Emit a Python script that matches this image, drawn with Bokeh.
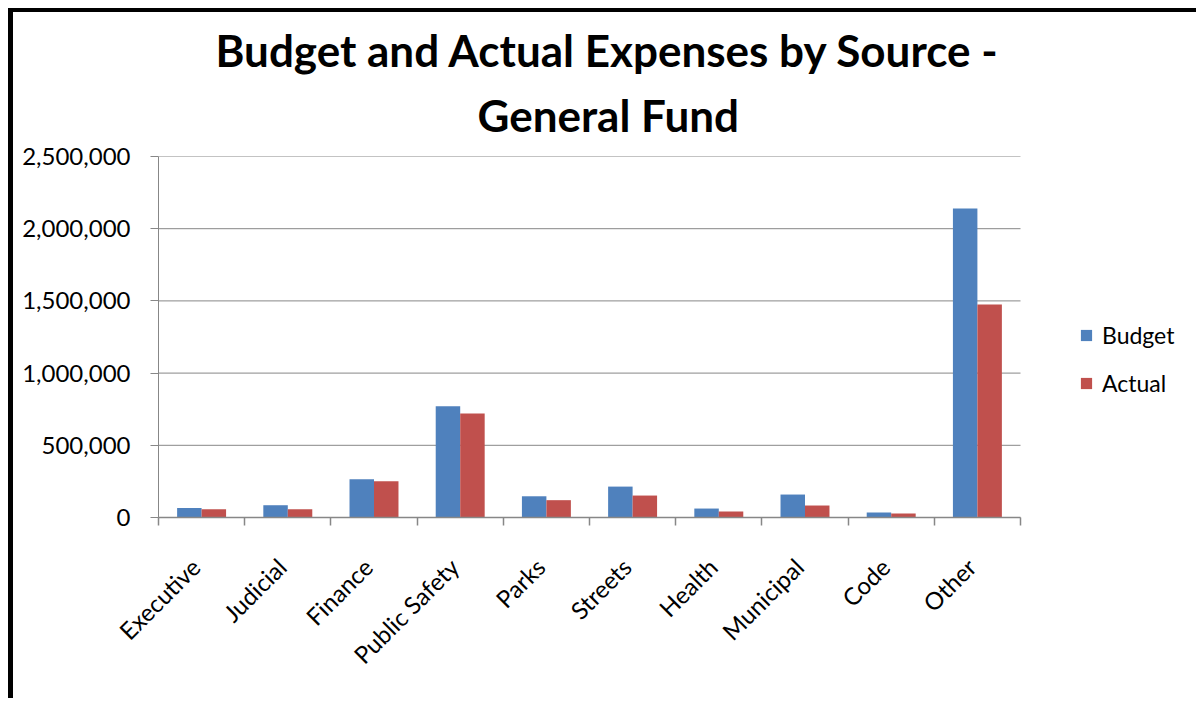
import math
from bokeh.plotting import figure
from bokeh.models import (ColumnDataSource, FixedTicker, NumeralTickFormatter, Range1d,
                          Legend, LegendItem, Title)
from bokeh.transform import dodge
from bokeh.embed import file_html
from bokeh.resources import INLINE

categories = ["Executive", "Judicial", "Finance", "Public Safety", "Parks",
              "Streets", "Health", "Municipal", "Code", "Other"]
budget = [66000, 85000, 265000, 770000, 147000, 214000, 62000, 159000, 35000, 2140000]
actual = [57000, 57000, 251000, 721000, 120000, 152000, 41000, 83000, 28000, 1475000]
y_ticks = [0, 500000, 1000000, 1500000, 2000000, 2500000]
title_lines = ["Budget and Actual Expenses by Source -", "General Fund"]

FONT = "Lato"
BLUE = "#4F81BD"
RED = "#C0504D"
GRID = "#878787"

n = len(categories)
centers = [i + 0.5 for i in range(n)]
bounds = [float(i) for i in range(n + 1)]
src = ColumnDataSource(dict(x=centers, budget=budget, actual=actual, cat=categories))

# layout (page pixels): plot area 158..1020 x 156..517, legend to its right
PL, PR, PT, PB = 158, 1020, 156, 517
x_end = n * (1201 - PL) / (PR - PL)   # frame reaches the right edge so the legend is not clipped
px_unit = (PR - PL) / n

p = figure(width=1188, height=690, output_backend="svg", toolbar_location=None,
           x_range=Range1d(0, x_end), y_range=Range1d(0, 2500000),
           min_border_left=PL - 13, min_border_right=0, min_border_top=PT - 12,
           min_border_bottom=702 - PB, background_fill_color="white",
           border_fill_color="white")
p.outline_line_color = None
p.margin = (8, 0, 0, 8)
p.styles = {"border-left": "5px solid black", "border-top": "4px solid black"}

# horizontal gridlines limited to the category area
p.ygrid.grid_line_color = None
p.xgrid.grid_line_color = None
p.segment(x0=[0] * len(y_ticks), x1=[n] * len(y_ticks), y0=y_ticks, y1=y_ticks,
          line_color=GRID, line_width=1, level="underlay")

bw = 0.284
rb = p.vbar(x=dodge("x", -bw / 2, range=p.x_range), top="budget", width=bw,
            source=src, fill_color=BLUE, line_color=None)
ra = p.vbar(x=dodge("x", bw / 2, range=p.x_range), top="actual", width=bw,
            source=src, fill_color=RED, line_color=None)

# title (two lines)
def style_title(t, offset):
    t.align = "left"
    t.text_font = FONT
    t.text_font_size = "44px"
    t.text_font_style = "bold"
    t.text_color = "black"
    t.offset = offset
    t.text_line_height = 1.0

p.title.text = title_lines[0]
style_title(p.title, 215 - PL)
p.title.standoff = -8
t2 = Title(text=title_lines[1])
style_title(t2, 477 - PL)
t2.standoff = 31
p.add_layout(t2, "above")

# y axis
yax = p.yaxis[0]
yax.ticker = FixedTicker(ticks=y_ticks)
yax.formatter = NumeralTickFormatter(format="0,0")
yax.axis_line_color = GRID
yax.major_tick_line_color = GRID
yax.major_tick_in = 0
yax.major_tick_out = 8
yax.minor_tick_line_color = None
yax.major_label_text_font = FONT
yax.major_label_text_font_size = "24px"
yax.major_label_text_color = "black"
yax.major_label_standoff = 20

# x axis: tick marks at category boundaries, labels near the centres
label_pos = [c - 6 / px_unit for c in centers]
xax = p.xaxis[0]
xax.bounds = (0, n)
xax.ticker = FixedTicker(ticks=label_pos, minor_ticks=bounds)
xax.major_label_overrides = {c: nm for c, nm in zip(label_pos, categories)}
xax.axis_line_color = GRID
xax.axis_line_width = 1.5
xax.major_tick_line_color = None
xax.minor_tick_line_color = GRID
xax.minor_tick_line_width = 1.5
xax.minor_tick_in = 0
xax.minor_tick_out = 8
xax.major_label_orientation = math.pi / 4
xax.major_label_text_font = FONT
xax.major_label_text_font_size = "24px"
xax.major_label_text_color = "black"
xax.major_label_standoff = 37

legend = Legend(items=[LegendItem(label="Budget", renderers=[rb]),
                       LegendItem(label="Actual", renderers=[ra])],
                location=(1079 - PL, 120), padding=0, margin=0, spacing=20,
                glyph_width=14, glyph_height=14, label_height=20,
                label_standoff=9, border_line_color=None,
                background_fill_alpha=0,
                label_text_font=FONT, label_text_font_size="23px",
                label_text_color="black")
p.add_layout(legend, "center")

open("out.html", "w").write(file_html(p, INLINE))
